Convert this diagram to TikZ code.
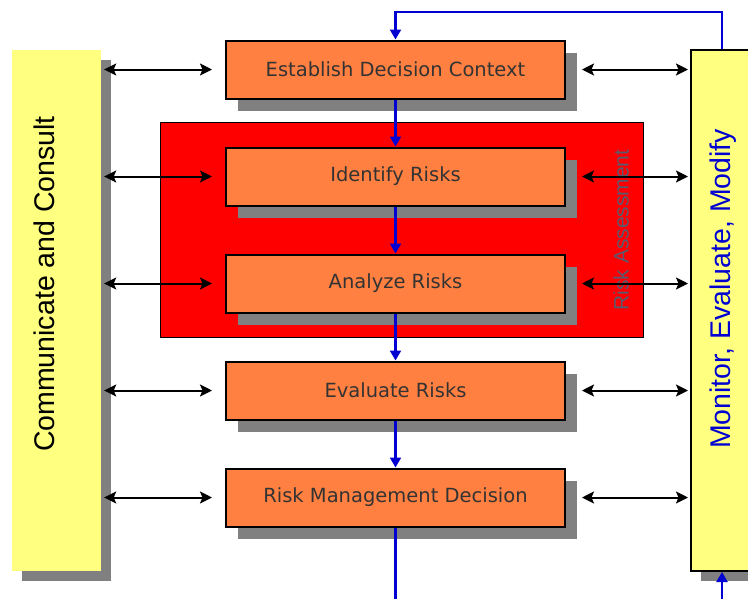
\documentclass[tikz,border=0pt]{standalone}
\usepackage{fontspec}
\setmainfont{DejaVu Sans}
\newfontfamily\arialfont{Liberation Sans}
\usetikzlibrary{positioning,arrows.meta,shadows}
\definecolor{boxorange}{RGB}{255,128,64}
\definecolor{sideyellow}{RGB}{255,255,128}
\definecolor{shadowgray}{RGB}{128,128,128}
\definecolor{textgray}{RGB}{51,51,51}
\definecolor{loopblue}{RGB}{0,0,210}
\definecolor{labelgray}{RGB}{90,90,110}

\begin{document}
\begin{tikzpicture}[x=1pt,y=-1pt,font=\fontsize{19.5}{22}\selectfont,node distance=47pt,
 stepbox/.style={draw,line width=2pt,fill=boxorange,text=textgray,minimum width=339pt,minimum height=58pt,
   drop shadow={shadow xshift=12pt,shadow yshift=-12pt,fill=shadowgray,opacity=1}},
 sidebox/.style={fill=sideyellow,minimum height=521pt,
   drop shadow={shadow xshift=10pt,shadow yshift=-10pt,fill=shadowgray,opacity=1}},
 sidelab/.style={rotate=90,font=\arialfont\fontsize{28.5}{30}\selectfont},
 link/.style={{Stealth[length=12pt,width=12pt,inset=2.5pt]}-{Stealth[length=12pt,width=12pt,inset=2.5pt]},line width=2pt},
 flow/.style={-{Triangle[length=10pt,width=11pt]},draw=loopblue,line width=2.2pt}]
\path[use as bounding box,clip] (0,0) rectangle (748,598);
% risk assessment block behind the two middle steps
\node[draw,line width=1.5pt,fill=red,minimum width=483pt,minimum height=215pt] (assess) at (402,230) {};
\node[rotate=90,text=labelgray,font=\arialfont\fontsize{21}{23}\selectfont] (asslab) at (621,230) {Risk Assessment};
% process steps
\node[stepbox] (est) at (395.5,69.5) {Establish Decision Context};
\node[stepbox,below=of est] (ident) {Identify Risks};
\node[stepbox,below=of ident] (anal) {Analyze Risks};
\node[stepbox,below=of anal] (eval) {Evaluate Risks};
\node[stepbox,below=of eval] (rmd) {Risk Management Decision};
% side columns
\node[sidebox,minimum width=89pt] (comm) at (56.5,310.5) {};
\node[sidelab] (commlab) at (44,284) {Communicate and Consult};
\node[sidebox,draw,line width=2pt,minimum width=62pt] (mon) at (722,310.5) {};
\node[sidelab,text=loopblue] (monlab) at (723,289) {Monitor, Evaluate, Modify};
\coordinate (roof) at (0,12);
\coordinate (floor) at (0,612);
% connectors
\draw[flow](est)--(ident); \draw[flow](ident)--(anal); \draw[flow](anal)--(eval); \draw[flow](eval)--(rmd);
\draw[flow](mon.north) |- (est.north |- roof) -- (est.north);
\draw[flow](rmd.south) -- (rmd.south |- floor) -| (mon.south);
\draw[link,shorten <=3pt,shorten >=13pt](comm.east |- est)--(est.west); \draw[link,shorten <=16pt,shorten >=2pt](est.east)--(est -| mon.west);
\draw[link,shorten <=3pt,shorten >=13pt](comm.east |- ident)--(ident.west); \draw[link,shorten <=16pt,shorten >=2pt](ident.east)--(ident -| mon.west);
\draw[link,shorten <=3pt,shorten >=13pt](comm.east |- anal)--(anal.west); \draw[link,shorten <=16pt,shorten >=2pt](anal.east)--(anal -| mon.west);
\draw[link,shorten <=3pt,shorten >=13pt](comm.east |- eval)--(eval.west); \draw[link,shorten <=16pt,shorten >=2pt](eval.east)--(eval -| mon.west);
\draw[link,shorten <=3pt,shorten >=13pt](comm.east |- rmd)--(rmd.west); \draw[link,shorten <=16pt,shorten >=2pt](rmd.east)--(rmd -| mon.west);
\end{tikzpicture}
\end{document}
